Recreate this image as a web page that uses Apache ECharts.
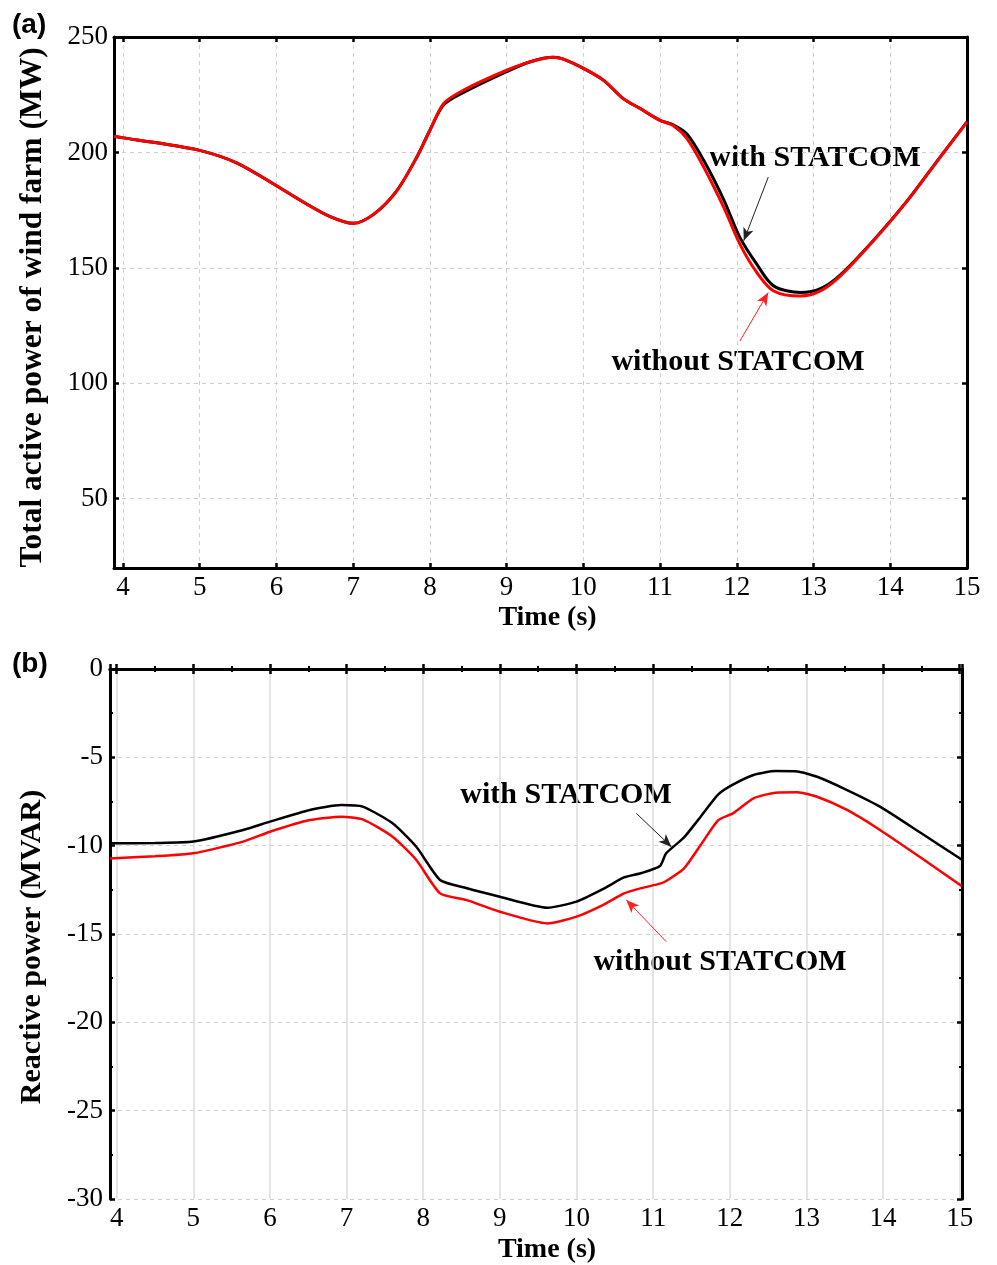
<!DOCTYPE html>
<html>
<head>
<meta charset="utf-8">
<script src="https://cdn.jsdelivr.net/npm/echarts@6/dist/echarts.min.js"></script>
<style>
html,body{margin:0;padding:0;background:#fff;}
#chart{width:997px;height:1265px;}
</style>
</head>
<body>
<div id="chart"></div>
<script>
// ---- Panel (a): total active power ----
const timeA = [3.883, 4, 4.44, 5, 5.48, 6, 6.35, 6.7, 7.0, 7.27, 7.57, 7.83, 8.0, 8.18, 8.44, 9.0, 9.31, 9.61, 9.74, 10.0, 10.26, 10.52, 10.74, 11.0, 11.17, 11.35, 11.57, 11.83, 12.04, 12.26, 12.48, 12.83, 13.09, 13.35, 13.78, 14.22, 14.65, 15.0];
const powerWithout = [207, 206.3, 204.2, 200.9, 195.5, 185.6, 178.5, 172.2, 169.3, 173.3, 183.5, 198, 209.6, 221.2, 227, 235.6, 239.3, 241.2, 240.4, 236.4, 231.3, 223.3, 219, 213.9, 211.7, 206, 193.6, 176.2, 160.3, 148, 140, 137.8, 140, 146.5, 161.7, 179, 198, 213.2];
const powerWith = [207, 206.3, 204.2, 200.9, 195.5, 185.6, 178.5, 172.2, 169.3, 173.3, 183.5, 198, 209.6, 220.6, 226, 235, 239.3, 241.2, 240.4, 236.4, 231.3, 223.3, 219, 213.9, 212, 208, 196.5, 179.5, 163.2, 151.6, 142.2, 139.3, 141, 147, 161.9, 179, 198, 213.2];
// ---- Panel (b): reactive power ----
const timeB = [3.913, 4.5, 5, 5.65, 6, 6.52, 6.93, 7.21, 7.6, 7.91, 8.22, 8.56, 9, 9.62, 10, 10.35, 10.62, 10.85, 11.09, 11.17, 11.4, 11.62, 11.85, 12.04, 12.31, 12.6, 12.88, 13.14, 13.53, 13.96, 14.5, 15.03];
const qWith = [-9.87, -9.85, -9.77, -9.11, -8.64, -7.98, -7.70, -7.79, -8.73, -10.06, -11.94, -12.4, -12.89, -13.51, -13.17, -12.45, -11.8, -11.55, -11.15, -10.43, -9.55, -8.36, -7.1, -6.55, -6.0, -5.78, -5.8, -6.1, -6.85, -7.79, -9.3, -10.8];
const qWithout = [-10.72, -10.6, -10.43, -9.77, -9.21, -8.55, -8.36, -8.51, -9.49, -10.81, -12.7, -13.07, -13.74, -14.4, -14.02, -13.35, -12.7, -12.4, -12.15, -12.0, -11.3, -9.96, -8.55, -8.17, -7.32, -7.0, -6.98, -7.23, -7.98, -9.11, -10.7, -12.3];
const xTicksLabel = 'Time (s)';
const yNameA = 'Total active power of wind farm (MW)';
const yNameB = 'Reactive power (MVAR)';

function pairs(xs, ys){ return xs.map((x,i)=>[x, ys[i]]); }

const SERIF = 'Liberation Serif';
const tickLbl = {fontFamily: SERIF, fontSize: 27, color: '#000'};
const axLine = {show: true, lineStyle: {color: '#000', width: 3}};
const axTick = {show: true, inside: true, length: 5, lineStyle: {color: '#000', width: 2.5}};
const intFmt = v => Math.abs(v - Math.round(v)) < 1e-6 ? String(Math.round(v)) : '';

function mirrorX(grid, min, max, minor){
  return {gridIndex: grid, type: 'value', position: 'top', min, max, splitNumber: 11, minInterval: 1, maxInterval: 1,
    axisLine: axLine, axisTick: axTick, axisLabel: {show: false}, splitLine: {show: false},
    minorTick: {show: !!minor, splitNumber: 2, length: 3, lineStyle: {color: '#000', width: 2}}};
}
function mirrorY(grid, min, max, iv, minor){
  return {gridIndex: grid, type: 'value', position: 'right', min, max, minInterval: iv, maxInterval: iv, splitNumber: 6,
    axisLine: axLine, axisTick: axTick, axisLabel: {show: false}, splitLine: {show: false},
    minorTick: {show: !!minor, splitNumber: 2, length: 3, lineStyle: {color: '#000', width: 2}}};
}

const annFont = 'bold 30px "Liberation Serif"';

const option = {
  animation: false,
  backgroundColor: '#fff',
  grid: [
    {left: 114, top: 37, width: 853, height: 531},
    {left: 110, top: 669, width: 852, height: 530}
  ],
  xAxis: [
    {gridIndex: 0, type: 'value', min: 3.883, max: 15, splitNumber: 11, minInterval: 1, maxInterval: 1,
     axisLine: axLine, axisTick: axTick,
     axisLabel: Object.assign({margin: 6, formatter: intFmt}, tickLbl),
     splitLine: {show: true, lineStyle: {type: [4, 4], color: '#cfcfcf', width: 1}},
     name: xTicksLabel, nameLocation: 'middle', nameGap: 36,
     nameTextStyle: {fontFamily: SERIF, fontSize: 28, fontWeight: 'bold', color: '#000', padding: [0, 0, 0, 14]}},
    mirrorX(0, 3.883, 15, false),
    {gridIndex: 1, type: 'value', min: 3.913, max: 15.03, splitNumber: 11, minInterval: 1, maxInterval: 1,
     axisLine: axLine, axisTick: axTick,
     minorTick: {show: true, splitNumber: 2, length: 3, lineStyle: {color: '#000', width: 2}},
     axisLabel: Object.assign({margin: 6, formatter: intFmt}, tickLbl),
     splitLine: {show: true, lineStyle: {type: 'solid', color: '#dcdcdc', width: 1.5}},
     name: xTicksLabel, nameLocation: 'middle', nameGap: 37,
     nameTextStyle: {fontFamily: SERIF, fontSize: 28, fontWeight: 'bold', color: '#000', padding: [0, 0, 0, 22]}},
    mirrorX(1, 3.913, 15.03, true)
  ],
  yAxis: [
    {gridIndex: 0, type: 'value', min: 20, max: 250, splitNumber: 5, minInterval: 50, maxInterval: 50,
     axisLine: axLine, axisTick: axTick,
     axisLabel: Object.assign({margin: 6, formatter: v => (Math.round(v) % 50 === 0 ? String(Math.round(v)) : '')}, tickLbl),
     splitLine: {show: true, lineStyle: {type: [4, 4], color: '#cfcfcf', width: 1}},
     name: yNameA, nameLocation: 'middle', nameGap: 65,
     nameTextStyle: {fontFamily: SERIF, fontSize: 31.5, fontWeight: 'bold', color: '#000', padding: [0, 10, 0, 0]}},
    mirrorY(0, 20, 250, 50, false),
    {gridIndex: 1, type: 'value', min: -30, max: 0, interval: 5,
     axisLine: axLine, axisTick: axTick,
     minorTick: {show: true, splitNumber: 2, length: 3, lineStyle: {color: '#000', width: 2}},
     axisLabel: Object.assign({margin: 7}, tickLbl),
     splitLine: {show: true, lineStyle: {type: [4, 4], color: '#cfcfcf', width: 1}},
     name: yNameB, nameLocation: 'middle', nameGap: 63,
     nameTextStyle: {fontFamily: SERIF, fontSize: 30, fontWeight: 'bold', color: '#000', padding: [0, 26, 0, 0]}},
    {gridIndex: 1, type: 'value', position: 'right', min: -30, max: 0, interval: 5,
     axisLine: axLine, axisTick: axTick, axisLabel: {show: false}, splitLine: {show: false},
     minorTick: {show: true, splitNumber: 2, length: 3, lineStyle: {color: '#000', width: 2}}}
  ],
  series: [
    {name: 'with STATCOM (a)', type: 'line', xAxisIndex: 0, yAxisIndex: 0, data: pairs(timeA, powerWith),
     showSymbol: false, smooth: 0.3, lineStyle: {color: '#000', width: 3}, silent: true,
     markLine: {silent: true, symbol: ['none', 'arrow'], symbolSize: [8, 13], label: {show: false},
       lineStyle: {color: '#222', width: 1, type: 'solid'},
       data: [[{coord: [12.41, 189.3]}, {coord: [12.09, 161.7]}]]}},
    {name: 'without STATCOM (a)', type: 'line', xAxisIndex: 0, yAxisIndex: 0, data: pairs(timeA, powerWithout),
     showSymbol: false, smooth: 0.3, lineStyle: {color: '#ff0000', width: 3}, silent: true,
     markLine: {silent: true, symbol: ['none', 'arrow'], symbolSize: [8, 13], label: {show: false},
       lineStyle: {color: '#ff2020', width: 1, type: 'solid'},
       data: [[{coord: [12.04, 118.3]}, {coord: [12.41, 139.3]}]]}},
    {name: 'with STATCOM (b)', type: 'line', xAxisIndex: 2, yAxisIndex: 2, data: pairs(timeB, qWith),
     showSymbol: false, smooth: 0.2, lineStyle: {color: '#000', width: 2.5}, silent: true,
     markLine: {silent: true, symbol: ['none', 'arrow'], symbolSize: [8, 13], label: {show: false},
       lineStyle: {color: '#222', width: 1, type: 'solid'},
       data: [[{coord: [10.78, -8.17]}, {coord: [11.24, -10.07]}]]}},
    {name: 'without STATCOM (b)', type: 'line', xAxisIndex: 2, yAxisIndex: 2, data: pairs(timeB, qWithout),
     showSymbol: false, smooth: 0.2, lineStyle: {color: '#ff0000', width: 2.5}, silent: true,
     markLine: {silent: true, symbol: ['none', 'arrow'], symbolSize: [8, 13], label: {show: false},
       lineStyle: {color: '#ff2020', width: 1, type: 'solid'},
       data: [[{coord: [11.17, -15.43]}, {coord: [10.65, -13.07]}]]}}
  ],
  graphic: [
    {type: 'text', style: {text: '(a)', x: 12, y: 25, font: 'bold 28px "Liberation Sans"', fill: '#000', textVerticalAlign: 'middle', verticalAlign: 'middle'}},
    {type: 'text', style: {text: '(b)', x: 12, y: 664, font: 'bold 28px "Liberation Sans"', fill: '#000', textVerticalAlign: 'middle', verticalAlign: 'middle'}},
    {type: 'text', style: {text: 'with STATCOM', x: 815, y: 158, font: annFont, fill: '#000', textAlign: 'center', align: 'center', textVerticalAlign: 'middle', verticalAlign: 'middle'}},
    {type: 'text', style: {text: 'without STATCOM', x: 738, y: 362, font: annFont, fill: '#000', textAlign: 'center', align: 'center', textVerticalAlign: 'middle', verticalAlign: 'middle'}},
    {type: 'text', style: {text: 'with STATCOM', x: 566, y: 795, font: annFont, fill: '#000', textAlign: 'center', align: 'center', textVerticalAlign: 'middle', verticalAlign: 'middle'}},
    {type: 'text', style: {text: 'without STATCOM', x: 720, y: 962, font: annFont, fill: '#000', textAlign: 'center', align: 'center', textVerticalAlign: 'middle', verticalAlign: 'middle'}}
  ]
};

const chart = echarts.init(document.getElementById('chart'), null, {renderer: 'canvas'});
chart.setOption(option);
</script>
</body>
</html>
